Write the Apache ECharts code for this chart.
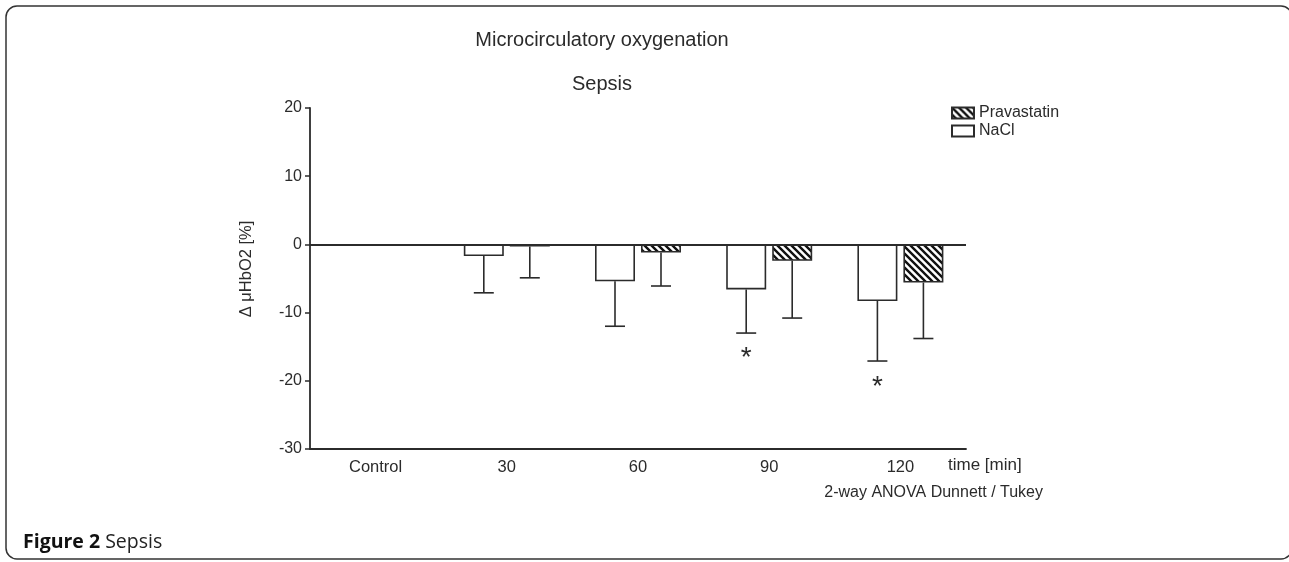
<!DOCTYPE html>
<html>
<head>
<meta charset="utf-8">
<script src="https://cdn.jsdelivr.net/npm/echarts@6/dist/echarts.min.js"></script>
<style>html,body{margin:0;padding:0;background:#fff;}#c{width:1289px;height:562px;}</style>
</head>
<body>
<div id="c"></div>
<script>
// ---- data ----
const categories = ['Control', '30', '60', '90', '120'];
const naclMean = [null, -1.7, -5.4, -6.6, -8.3];
const naclSD = [null, 5.4, 6.6, 6.4, 8.8];
const pravaMean = [null, -0.3, -1.2, -2.4, -5.6];
const pravaSD = [null, 4.6, 4.9, 8.4, 8.2];
// significance markers: [category index, y position (value units)]
const naclSignificance = [[3, -16.1], [4, -20.4]];

// ---- style ----
const FONT = 'Liberation Sans, Arial, sans-serif';
const INK = '#2b2b2b';
const BAR_W = 40, BAR_GAP = 6;
const OFF = (BAR_W + BAR_GAP) / 2;

function hatch() {
  const s = 7;
  const c = document.createElement('canvas');
  c.width = s; c.height = s;
  const g = c.getContext('2d');
  g.fillStyle = '#fff'; g.fillRect(0, 0, s, s);
  g.strokeStyle = '#111'; g.lineWidth = 2.4;
  g.beginPath();
  for (let k = -1; k <= 1; k++) { g.moveTo(-1, k * s - 1); g.lineTo(s + 1, s + k * s + 1); }
  g.stroke();
  return c;
}
const hatchFill = { image: hatch(), repeat: 'repeat' };

function errRender(means, sds, offset) {
  return function (params, api) {
    const i = api.value(0);
    const m = means[i], sd = sds[i];
    if (m == null) return null;
    const p0 = api.coord([i, m]);
    const p1 = api.coord([i, m - sd]);
    const x = p0[0] + offset;
    return {
      type: 'group',
      children: [
        { type: 'line', shape: { x1: x, y1: p0[1], x2: x, y2: p1[1] }, style: { stroke: INK, lineWidth: 1.6 } },
        { type: 'line', shape: { x1: x - 10, y1: p1[1], x2: x + 10, y2: p1[1] }, style: { stroke: INK, lineWidth: 1.6 } }
      ]
    };
  };
}

const chart = echarts.init(document.getElementById('c'), null, { renderer: 'canvas' });
chart.setOption({
  backgroundColor: '#fff',
  animation: false,
  textStyle: { fontFamily: FONT, color: INK },
  title: [
    { text: 'Microcirculatory oxygenation', left: 597, top: 25, textAlign: 'center',
      textStyle: { fontFamily: FONT, fontSize: 20, fontWeight: 'normal', color: INK } },
    { text: 'Sepsis', left: 597, top: 69, textAlign: 'center',
      textStyle: { fontFamily: FONT, fontSize: 20, fontWeight: 'normal', color: INK } }
  ],
  legend: {
    data: ['Pravastatin', 'NaCl'], orient: 'vertical', left: 946, top: 99,
    itemWidth: 22, itemHeight: 11, itemGap: 0, icon: 'rect',
    textStyle: { fontFamily: FONT, fontSize: 16, lineHeight: 18, color: INK, padding: [0, 0, 0, 0] }
  },
  grid: { left: 310, right: 323, top: 108, bottom: 113, containLabel: false },
  xAxis: {
    type: 'category', data: categories,
    axisLine: { onZero: false, lineStyle: { color: INK, width: 1.8 } },
    axisTick: { alignWithLabel: true, length: 4, lineStyle: { color: INK, width: 1.5 } },
    axisLabel: { fontFamily: FONT, fontSize: 16.5, color: INK, margin: 10 },
    splitLine: { show: false }
  },
  yAxis: {
    type: 'value', min: -30, max: 20, interval: 10,
    axisLine: { show: true, lineStyle: { color: INK, width: 1.8 } },
    axisTick: { show: true, length: 5, lineStyle: { color: INK, width: 1.5 } },
    axisLabel: { fontFamily: FONT, fontSize: 16, color: INK, margin: 8 },
    splitLine: { show: false }
  },
  series: [
    { name: 'NaCl', type: 'bar', data: naclMean, barWidth: BAR_W, barGap: (BAR_GAP / BAR_W * 100) + '%',
      itemStyle: { color: '#fff', borderColor: INK, borderWidth: 1.6 },
      markLine: { silent: true, symbol: 'none', label: { show: false },
        lineStyle: { color: INK, width: 1.8, type: 'solid' }, data: [{ yAxis: 0 }] } },
    { name: 'Pravastatin', type: 'bar', data: pravaMean, barWidth: BAR_W,
      itemStyle: { color: hatchFill, borderColor: INK, borderWidth: 1.6 } },
    { type: 'custom', z: 5, data: categories.map((c, i) => [i]), renderItem: errRender(naclMean, naclSD, -OFF) },
    { type: 'custom', z: 5, data: categories.map((c, i) => [i]), renderItem: errRender(pravaMean, pravaSD, OFF) },
    { type: 'custom', z: 5, data: naclSignificance, renderItem: function (params, api) {
        const p = api.coord([api.value(0), api.value(1)]);
        return { type: 'text', x: p[0] - OFF, y: p[1] + 4,
          style: { text: '*', font: '28px ' + FONT, fill: INK, align: 'center', verticalAlign: 'middle' } };
      } }
  ],
  graphic: [
    { type: 'rect', shape: { x: 6, y: 6, width: 1286, height: 553, r: 11 },
      style: { fill: 'none', stroke: '#333', lineWidth: 1.5 }, silent: true },
    { type: 'text', x: 246, y: 269, rotation: Math.PI / 2,
      style: { text: 'Δ μHbO2 [%]', font: '16.5px ' + FONT, fill: INK, align: 'center', verticalAlign: 'middle' } },
    { type: 'text', x: 948, y: 465, style: { text: 'time [min]', font: '17px ' + FONT, fill: INK, verticalAlign: 'middle' } },
    { type: 'text', x: 1043, y: 493, style: { text: '2-way ANOVA Dunnett / Tukey', font: '16px ' + FONT, fill: INK, align: 'right', verticalAlign: 'middle' } },
    { type: 'text', x: 23, y: 542, style: {
        text: '{b|Figure 2} Sepsis', verticalAlign: 'middle',
        font: '19.5px "Open Sans", sans-serif', fill: '#222',
        rich: { b: { fontFamily: '"Open Sans", sans-serif', fontWeight: 'bold', fontSize: 19.5, fill: '#111' } } } }
  ]
});
</script>
</body>
</html>
